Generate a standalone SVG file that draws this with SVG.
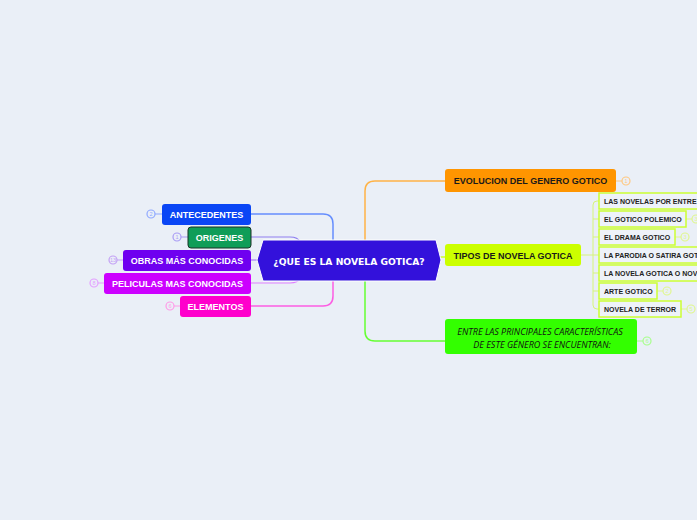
<svg xmlns="http://www.w3.org/2000/svg" width="697" height="520" viewBox="0 0 697 520">
<style>
.t{font-family:"Liberation Sans",Arial,sans-serif;font-weight:bold;text-anchor:middle;dominant-baseline:central}
.w{fill:#ffffff;font-size:9px}
.k{fill:#1a1a1a;font-size:9px}
.s{fill:#222222;font-size:7px;text-anchor:start}
.sub{fill:#eef2f9;stroke:#ccff33;stroke-width:1.5}
.bd{fill:#eaeff7;stroke-width:1.2}
.bn{font-family:"Liberation Sans",Arial,sans-serif;font-size:5.5px;text-anchor:middle;dominant-baseline:central}
.c{fill:none;stroke-linecap:round}
.it{font-family:"Open Sans","Noto Sans",sans-serif;font-style:italic;font-size:9px;fill:#111111;text-anchor:middle;dominant-baseline:central}
</style>
<rect width="697" height="520" fill="#eaeff7"/>
<g id="connectors">
<path class="c" d="M251,214 H323 Q333,214 333,224 V245" stroke="#4d7dff" stroke-width="1.5" opacity="0.85"/>
<path class="c" d="M251,237 H290 Q298,237 300,242" stroke="#8f7ff0" stroke-width="1.2"/>
<path class="c" d="M251,260 H258" stroke="#9b66f5" stroke-width="1.2"/>
<path class="c" d="M251,283 H290 Q298,283 300,278" stroke="#e080ff" stroke-width="1.2"/>
<path class="c" d="M251,306 H323 Q333,306 333,296 V275" stroke="#ff4de0" stroke-width="1.5" opacity="0.9"/>
<path class="c" d="M365,245 V191 Q365,181 375,181 H445" stroke="#ffb347" stroke-width="1.5"/>
<path class="c" d="M365,276 V331 Q365,341 375,341 H445" stroke="#66ff33" stroke-width="1.5"/>
<path class="c" d="M440,257 H445" stroke="#ccff33" stroke-width="1.5"/>
<g stroke="#d6f57a" stroke-width="1" fill="none">
<path d="M581,255 H593"/>
<path d="M599,201 H597 Q593,201 593,205 V305 Q593,309 597,309 H599"/>
<path d="M593,219 H599 M593,237 H599 M593,255 H599 M593,273 H599 M593,291 H599"/>
</g>
<g fill="none" stroke-width="1">
<path d="M162,214 H155" stroke="#8fa8ff"/>
<path d="M188,237 H181" stroke="#a99cf5"/>
<path d="M123,260 H117" stroke="#c3a0f5"/>
<path d="M104,283 H98" stroke="#e3a0ff"/>
<path d="M180,306 H174" stroke="#ff9ae8"/>
<path d="M616,181 H622" stroke="#ffc880"/>
<path d="M637,341 H643" stroke="#a6ff8a"/>
<path d="M686,219 H692 M675,237 H681 M657,291 H663 M681,309 H687" stroke="#e0f78f"/>
</g>
</g>
<g id="center">
<polygon points="257,260 263,240 436,240 441,260 436,281 263,281" fill="#3311db" stroke="#ffffff" stroke-width="1"/>
<text class="t" x="349" y="261" fill="#ffffff" style="font-family:'DejaVu Sans',Verdana,sans-serif;font-size:9.2px">¿QUE ES LA NOVELA GOTICA?</text>
</g>
<g id="antecedentes">
<rect x="162" y="204" width="89" height="21" rx="3" fill="#0a46f5"/>
<text class="t w" x="206.5" y="215">ANTECEDENTES</text>
<circle class="bd" cx="151" cy="214" r="4" stroke="#8fa8ff"/><text class="bn" x="151" y="214" fill="#8fa8ff">2</text>
</g>
<g id="origenes">
<rect x="188" y="227" width="63" height="21" rx="3" fill="#0f9d58" stroke="#1b3326" stroke-width="1"/>
<text class="t w" x="219.5" y="238">ORIGENES</text>
<circle class="bd" cx="177" cy="237" r="4" stroke="#a99cf5"/><text class="bn" x="177" y="237" fill="#a99cf5">1</text>
</g>
<g id="obras">
<rect x="123" y="250" width="128" height="21" rx="3" fill="#6f00f0"/>
<text class="t w" x="187" y="261">OBRAS MÁS CONOCIDAS</text>
<circle class="bd" cx="113" cy="260" r="4" stroke="#c3a0f5"/><text class="bn" x="113" y="260" fill="#c3a0f5">13</text>
</g>
<g id="peliculas">
<rect x="104" y="273" width="147" height="21" rx="3" fill="#cc00ff"/>
<text class="t w" x="177.5" y="284">PELICULAS MAS CONOCIDAS</text>
<circle class="bd" cx="94" cy="283" r="4" stroke="#e3a0ff"/><text class="bn" x="94" y="283" fill="#e3a0ff">8</text>
</g>
<g id="elementos">
<rect x="180" y="296" width="71" height="21" rx="3" fill="#ff00cc"/>
<text class="t w" x="215.5" y="307">ELEMENTOS</text>
<circle class="bd" cx="170" cy="306" r="4" stroke="#ff9ae8"/><text class="bn" x="170" y="306" fill="#ff9ae8">6</text>
</g>
<g id="evolucion">
<rect x="445" y="169" width="171" height="23" rx="3" fill="#ff9500"/>
<text class="t k" x="530.5" y="181">EVOLUCION DEL GENERO GOTICO</text>
<circle class="bd" cx="626" cy="181" r="4" stroke="#ffc880"/><text class="bn" x="626" y="181" fill="#ffc880">1</text>
</g>
<g id="tipos">
<rect x="445" y="244" width="136" height="22" rx="3" fill="#ccff00"/>
<text class="t k" x="513" y="255.5">TIPOS DE NOVELA GOTICA</text>
</g>
<g id="entre">
<rect x="445" y="319" width="192" height="35" rx="3" fill="#33ff00"/>
<text class="it" x="540" y="331">ENTRE LAS PRINCIPALES CARACTERÍSTICAS</text>
<text class="it" x="542" y="344">DE ESTE GÉNERO SE ENCUENTRAN:</text>
<circle class="bd" cx="647" cy="341" r="4" stroke="#a6ff8a"/><text class="bn" x="647" y="341" fill="#a6ff8a">6</text>
</g>
<g id="sub1">
<rect class="sub" x="599" y="193" width="110" height="16"/>
<text class="t s" x="604" y="201.5">LAS NOVELAS POR ENTRE</text>
</g>
<g id="sub2">
<rect class="sub" x="599" y="211" width="87" height="16"/>
<text class="t s" x="604" y="219.5">EL GOTICO POLEMICO</text>
<circle class="bd" cx="696" cy="219" r="4" stroke="#e0f78f"/><text class="bn" x="696" y="219" fill="#e0f78f">3</text>
</g>
<g id="sub3">
<rect class="sub" x="599" y="229" width="76" height="16"/>
<text class="t s" x="604" y="237.5">EL DRAMA GOTICO</text>
<circle class="bd" cx="685" cy="237" r="4" stroke="#e0f78f"/><text class="bn" x="685" y="237" fill="#e0f78f">3</text>
</g>
<g id="sub4">
<rect class="sub" x="599" y="247" width="110" height="16"/>
<text class="t s" x="604" y="255.5">LA PARODIA O SATIRA GOT</text>
</g>
<g id="sub5">
<rect class="sub" x="599" y="265" width="110" height="16"/>
<text class="t s" x="604" y="273.5">LA NOVELA GOTICA O NOV</text>
</g>
<g id="sub6">
<rect class="sub" x="599" y="283" width="58" height="16"/>
<text class="t s" x="604" y="291.5">ARTE GOTICO</text>
<circle class="bd" cx="667" cy="291" r="4" stroke="#e0f78f"/><text class="bn" x="667" y="291" fill="#e0f78f">2</text>
</g>
<g id="sub7">
<rect class="sub" x="599" y="301" width="82" height="16"/>
<text class="t s" x="604" y="309.5">NOVELA DE TERROR</text>
<circle class="bd" cx="691" cy="309" r="4" stroke="#e0f78f"/><text class="bn" x="691" y="309" fill="#e0f78f">5</text>
</g>
</svg>
